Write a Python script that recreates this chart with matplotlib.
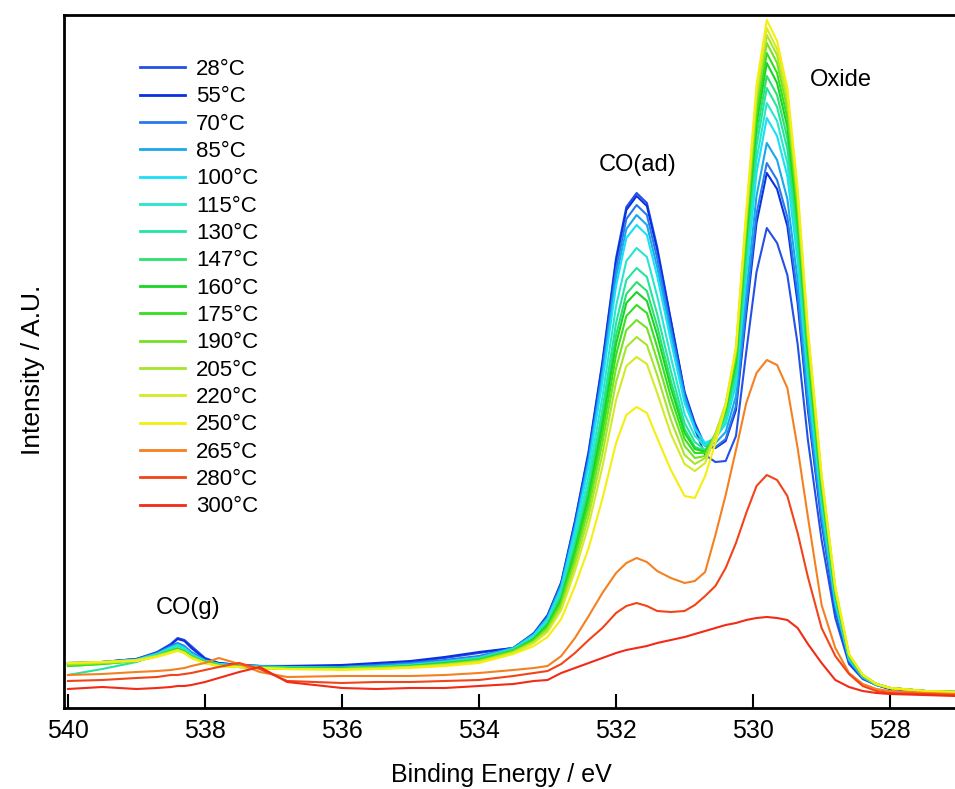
import matplotlib
matplotlib.use('Agg')
import matplotlib.pyplot as plt

plt.rcParams['font.family'] = ['Liberation Sans', 'DejaVu Sans']

# binding energy grid (eV) and intensities (a.u.)
binding_energy = [540.0, 539.5, 539.0, 538.7, 538.5, 538.4, 538.3, 538.2, 538.0, 537.8,
                  537.5, 537.2, 536.8, 536.0, 535.5, 535.0, 534.5, 534.0, 533.5, 533.2,
                  533.0, 532.8, 532.6, 532.4, 532.2, 532.0, 531.85, 531.7, 531.55, 531.4,
                  531.2, 531.0, 530.85, 530.7, 530.55, 530.4, 530.25, 530.1, 529.95, 529.8,
                  529.65, 529.5, 529.35, 529.2, 529.0, 528.8, 528.6, 528.4, 528.2, 528.0,
                  527.5, 527.05]

temps = [28, 55, 70, 85, 100, 115, 130, 147, 160, 175, 190, 205, 220, 250, 265, 280, 300]
colors = ['#2450e6', '#0c30e0', '#2a78ea', '#1aa8ec', '#1adff5', '#27e6d0', '#22e6a0',
          '#2de070', '#1ad425', '#33e01f', '#72e224', '#a6e52a', '#d4ea28', '#f5ee10',
          '#f58020', '#f24418', '#f22a16']

i_28 = [45, 46, 49, 56, 64, 70, 68, 62, 50, 45, 43, 42, 42, 42, 44, 46, 50, 55,
        60, 75, 93, 126, 187, 257, 346, 450, 501, 515, 505, 461, 388, 315, 279, 253, 246, 247,
        272, 356, 436, 480, 465, 433, 364, 268, 168, 90, 44, 29, 23, 19, 17, 16]
i_55 = [44, 46, 49, 55, 63, 69, 67, 60, 49, 45, 43, 42, 42, 43, 45, 47, 51, 56,
        60, 74, 92, 125, 186, 255, 344, 447, 498, 512, 502, 458, 387, 316, 285, 262, 260, 267,
        298, 394, 485, 535, 519, 482, 405, 298, 185, 98, 46, 30, 23, 19, 17, 16]
i_70 = [45, 46, 49, 55, 62, 65, 62, 56, 48, 44, 43, 42, 41, 41, 43, 45, 48, 52,
        60, 74, 91, 124, 183, 251, 338, 439, 489, 503, 493, 450, 380, 313, 282, 262, 261, 269,
        302, 401, 494, 545, 528, 491, 413, 303, 188, 100, 47, 30, 23, 20, 17, 16]
i_85 = [44, 45, 48, 54, 61, 64, 61, 55, 47, 44, 42, 42, 41, 41, 42, 44, 47, 51,
        60, 73, 90, 122, 180, 247, 332, 431, 479, 493, 483, 441, 374, 310, 280, 263, 265, 276,
        312, 415, 512, 565, 548, 509, 428, 314, 195, 103, 48, 31, 23, 20, 17, 16]
i_100 = [43, 45, 48, 54, 60, 63, 60, 54, 47, 44, 42, 41, 41, 40, 41, 43, 46, 50,
         59, 73, 89, 120, 177, 242, 326, 422, 470, 483, 473, 432, 367, 305, 279, 265, 270, 284,
         323, 432, 535, 590, 572, 532, 447, 327, 203, 106, 49, 31, 23, 20, 17, 16]
i_115 = [44, 46, 48, 54, 60, 62, 59, 53, 47, 44, 42, 41, 40, 40, 41, 43, 46, 50,
         59, 71, 87, 116, 170, 232, 311, 402, 447, 460, 451, 412, 351, 294, 272, 262, 271, 287,
         329, 442, 548, 605, 587, 545, 458, 336, 208, 109, 50, 32, 24, 20, 17, 16]
i_130 = [33, 39, 46, 53, 58, 60, 57, 52, 46, 43, 42, 41, 40, 40, 41, 42, 45, 49,
         58, 70, 85, 113, 164, 223, 298, 385, 428, 440, 431, 394, 337, 285, 266, 258, 271, 291,
         335, 452, 562, 620, 601, 559, 469, 344, 212, 111, 51, 32, 24, 20, 17, 16]
i_147 = [42, 44, 47, 52, 57, 59, 57, 52, 46, 43, 42, 41, 40, 40, 41, 42, 45, 49,
         58, 69, 84, 111, 160, 217, 289, 373, 414, 426, 417, 382, 327, 279, 261, 257, 271, 294,
         340, 461, 573, 632, 613, 570, 478, 350, 216, 113, 51, 32, 24, 20, 17, 16]
i_160 = [43, 45, 47, 52, 57, 59, 56, 51, 46, 43, 41, 40, 40, 40, 40, 42, 45, 48,
         57, 69, 83, 109, 157, 212, 283, 364, 405, 416, 407, 373, 320, 275, 259, 256, 274, 298,
         346, 470, 584, 645, 625, 581, 488, 357, 220, 115, 52, 32, 24, 20, 17, 16]
i_175 = [42, 44, 47, 52, 57, 59, 56, 51, 46, 43, 41, 40, 40, 39, 40, 42, 44, 48,
         57, 68, 81, 107, 153, 206, 274, 353, 392, 403, 395, 361, 311, 269, 255, 255, 274, 300,
         350, 476, 593, 655, 635, 590, 495, 363, 224, 116, 52, 33, 24, 20, 17, 16]
i_190 = [43, 45, 47, 52, 56, 58, 56, 51, 45, 43, 41, 40, 39, 39, 40, 41, 44, 47,
         56, 67, 80, 104, 148, 200, 265, 340, 378, 388, 380, 348, 301, 262, 250, 252, 274, 303,
         354, 483, 602, 665, 645, 599, 503, 368, 227, 118, 53, 33, 24, 20, 17, 16]
i_205 = [44, 45, 47, 52, 56, 58, 55, 51, 45, 42, 41, 40, 39, 39, 40, 41, 43, 47,
         56, 66, 78, 101, 143, 192, 254, 326, 361, 371, 363, 333, 288, 253, 244, 250, 274, 304,
         358, 489, 610, 673, 653, 607, 509, 372, 229, 119, 53, 33, 24, 20, 17, 16]
i_220 = [45, 46, 48, 52, 56, 58, 55, 50, 45, 42, 41, 40, 39, 39, 39, 41, 43, 46,
         55, 65, 76, 98, 137, 183, 241, 308, 342, 351, 344, 315, 274, 244, 237, 245, 272, 304,
         360, 492, 616, 680, 659, 613, 514, 376, 232, 120, 54, 33, 24, 20, 17, 16]
i_250 = [45, 46, 47, 51, 55, 57, 55, 50, 45, 42, 41, 40, 39, 38, 39, 40, 42, 45,
         54, 62, 71, 89, 122, 160, 209, 265, 293, 301, 295, 270, 238, 212, 210, 232, 265, 302,
         361, 497, 623, 688, 667, 620, 520, 380, 234, 121, 54, 33, 24, 20, 17, 16]
i_265 = [33, 34, 36, 37, 38, 39, 40, 42, 45, 50, 44, 36, 31, 32, 32, 32, 33, 35,
         38, 40, 42, 52, 70, 92, 115, 135, 145, 150, 146, 137, 130, 125, 127, 136, 173, 213,
         258, 305, 335, 348, 343, 320, 260, 191, 103, 60, 35, 24, 19, 17, 15, 14]
i_280 = [27, 28, 30, 31, 33, 33, 34, 35, 38, 41, 45, 39, 27, 25, 26, 26, 27, 28,
         32, 35, 37, 44, 55, 68, 80, 95, 102, 105, 102, 97, 96, 97, 103, 112, 122, 140,
         165, 195, 222, 233, 228, 212, 175, 131, 80, 52, 34, 22, 17, 15, 14, 13]
i_300 = [19, 21, 19, 20, 21, 22, 22, 23, 26, 30, 36, 41, 26, 20, 19, 20, 20, 22,
         24, 27, 28, 35, 40, 45, 50, 55, 58, 60, 62, 65, 68, 71, 74, 77, 80, 83,
         85, 88, 90, 91, 90, 88, 80, 64, 45, 28, 21, 17, 15, 14, 13, 12]

spectra = [i_28, i_55, i_70, i_85, i_100, i_115, i_130, i_147, i_160, i_175,
           i_190, i_205, i_220, i_250, i_265, i_280, i_300]

W, H = 955, 789
fig = plt.figure(figsize=(W / 100, H / 100), dpi=100)
ax = fig.add_axes([64 / W, 81 / H, 896 / W, 693 / H])

for t, c, y in zip(temps, colors, spectra):
    ax.plot(binding_energy, y, color=c, lw=1.5, label=f'{t}°C')

ax.set_xlim(540.058, 526.98)
ax.set_ylim(0, 693)
ax.set_xticks([540, 538, 536, 534, 532, 530, 528])
ax.set_yticks([])
ax.tick_params(axis='x', direction='in', length=10, width=1.5, labelsize=18, pad=8)
for s in ['left', 'top', 'bottom']:
    ax.spines[s].set_linewidth(2)
ax.spines['right'].set_visible(False)

# peak labels
ax.text(531.69, 543, 'CO(ad)', fontsize=17, ha='center', va='center')
ax.text(529.17, 628, 'Oxide', fontsize=17, ha='left', va='center')
ax.text(538.25, 100, 'CO(g)', fontsize=17, ha='center', va='center')

leg = ax.legend(loc='upper left', bbox_to_anchor=(140 / W, 1 - 59 / H),
                bbox_transform=fig.transFigure, frameon=False, fontsize=16,
                borderpad=0, borderaxespad=0, handlelength=2.03, handletextpad=0.5,
                labelspacing=0.285)
for line in leg.get_lines():
    line.set_linewidth(2)

fig.text(501 / W, 1 - 775 / H, 'Binding Energy / eV', fontsize=18, ha='center', va='center')
fig.text(33 / W, 1 - 370 / H, 'Intensity / A.U.', fontsize=19, rotation=90,
         ha='center', va='center')

fig.savefig('out.png', dpi=100)
